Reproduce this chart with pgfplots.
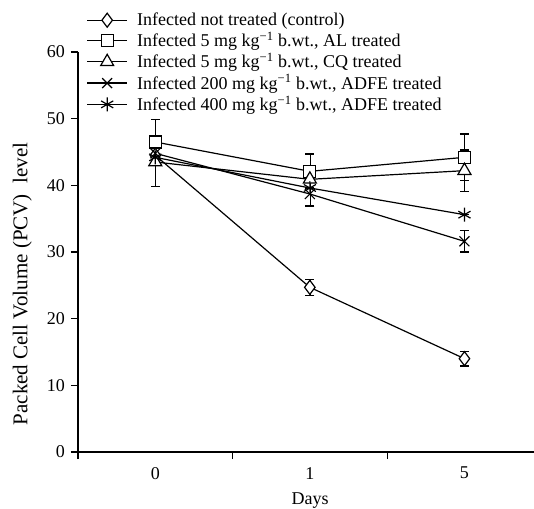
\documentclass[border=0pt]{standalone}
\usepackage{fontspec}
\setmainfont{Liberation Serif}
\usepackage{pgfplots}
\pgfplotsset{compat=1.18}

\newcommand{\chartfont}{\fontsize{18}{21.5}\selectfont}

\begin{document}
\chartfont
\begin{tikzpicture}
\begin{axis}[
    scale only axis,
    width=456pt, height=400pt,
    xmin=-0.5, xmax=2.45,
    ymin=0, ymax=60,
    axis x line*=bottom,
    axis y line*=left,
    axis line style={line width=1.2pt},
    tick style={line width=1.2pt, black},
    tick align=outside,
    major tick length=7pt,
    xtick={-0.5,0.5,1.5},
    xticklabels={},
    extra x ticks={0,1,2},
    extra x tick labels={0,1,5},
    extra x tick style={tick style={draw=none}, major tick length=0pt},
    ytick={0,10,...,60},
    /pgf/number format/assume math mode=true,
    tick label style={font=\chartfont},
    xticklabel style={yshift=-9pt},
    label style={font=\chartfont},
    xlabel={Days},
    xlabel style={at={(rel axis cs:0.509,-0.121)}, anchor=center},
    ylabel={Packed Cell Volume (PCV)\ \ level},
    ylabel style={at={(rel axis cs:-0.122,0.42)}, anchor=center,
        font=\fontsize{21}{25}\selectfont},
    legend style={at={(rel axis cs:0.012,1.108)}, anchor=north west,
        draw=none, fill=none, font=\chartfont,
        nodes={inner sep=1.5pt}, row sep=1pt, column sep=8pt},
    legend cell align=left,
    legend image code/.code={
        \draw[mark repeat=2, mark phase=2]
        plot coordinates {(0cm,0cm) (0.7cm,0cm) (1.4cm,0cm)};},
    error bars/y dir=both,
    error bars/y explicit,
    error bars/error mark options={rotate=90, mark size=4.5pt, line width=1.2pt, black},
]

% Infected not treated (control)
\addplot[black, line width=1.2pt, mark=diamond*, mark size=7pt, mark options={fill=white, solid}]
coordinates {(0,44.5) +- (0,0) (1,24.7) +- (0,1.2) (2,14.0) +- (0,1.1)};
\addlegendentry{Infected not treated (control)}

% AL treated
\addplot[black, line width=1.2pt, mark=square*, mark size=6pt, mark options={fill=white, solid}]
coordinates {(0,46.5) +- (0,3.4) (1,42.1) +- (0,2.6) (2,44.2) +- (0,3.5)};
\addlegendentry{Infected 5 mg kg\textsuperscript{−1} b.wt., AL treated}

% CQ treated
\addplot[black, line width=1.2pt, mark=triangle*, mark size=7.5pt, mark options={fill=white, solid}]
coordinates {(0,43.5) +- (0,3.7) (1,40.9) +- (0,0) (2,42.2) +- (0,3.1)};
\addlegendentry{Infected 5 mg kg\textsuperscript{−1} b.wt., CQ treated}

% ADFE 200
\addplot[black, line width=1.2pt, mark=x, mark size=7pt, mark options={solid}]
coordinates {(0,44.8) +- (0,0) (1,38.7) +- (0,1.8) (2,31.6) +- (0,1.6)};
\addlegendentry{Infected 200 mg kg\textsuperscript{−1} b.wt., ADFE treated}

% ADFE 400
\addplot[black, line width=1.2pt, mark=asterisk, mark size=7pt, mark options={solid}]
coordinates {(0,44.2) +- (0,0) (1,39.6) +- (0,0) (2,35.6) +- (0,0)};
\addlegendentry{Infected 400 mg kg\textsuperscript{−1} b.wt., ADFE treated}

\end{axis}
\pgfresetboundingbox
\path[use as bounding box] (-78pt,-56pt) rectangle (456pt,452pt);
\end{tikzpicture}
\end{document}
